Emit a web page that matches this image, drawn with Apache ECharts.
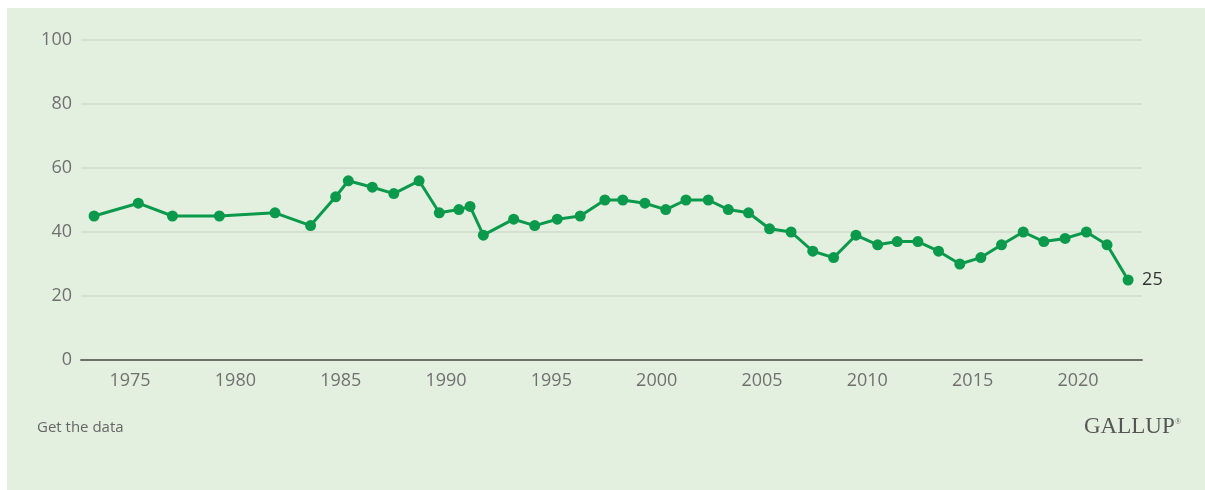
<!DOCTYPE html>
<html>
<head>
<meta charset="utf-8">
<script src="https://cdn.jsdelivr.net/npm/echarts@6/dist/echarts.min.js"></script>
<style>
  html, body { margin: 0; padding: 0; background: #ffffff; }
  .panel { position: absolute; left: 7px; top: 8px; width: 1198px; height: 482px; background: #e3f0df; }
  #chart { position: absolute; left: 0; top: 0; width: 1205px; height: 490px; }
</style>
</head>
<body>
<div class="panel"></div>
<div id="chart"></div>
<script>
// poll dates as decimal years
const pollYears = [
  1973.29, 1975.39, 1977.01, 1979.24, 1981.88, 1983.57, 1984.76, 1985.36, 1986.50, 1987.52,
  1988.72, 1989.68, 1990.61, 1991.14, 1991.77, 1993.21, 1994.21, 1995.28, 1996.37, 1997.54,
  1998.39, 1999.44, 2000.43, 2001.39, 2002.45, 2003.40, 2004.36, 2005.36, 2006.38, 2007.41,
  2008.40, 2009.46, 2010.49, 2011.42, 2012.40, 2013.38, 2014.39, 2015.39, 2016.37, 2017.40,
  2018.38, 2019.39, 2020.40, 2021.38, 2022.38
]
const confidence = [
  45, 49, 45, 45, 46, 42, 51, 56, 54, 52,
  56, 46, 47, 48, 39, 44, 42, 44, 45, 50,
  50, 49, 47, 50, 50, 47, 46, 41, 40, 34,
  32, 39, 36, 37, 37, 34, 30, 32, 36, 40,
  37, 38, 40, 36, 25
]
const xTickYears = [1975, 1980, 1985, 1990, 1995, 2000, 2005, 2010, 2015, 2020]
const yTicks = [0, 20, 40, 60, 80, 100]

const chart = echarts.init(document.getElementById('chart'))

const points = pollYears.map((yr, i) => [yr, confidence[i]])

chart.setOption({
  backgroundColor: 'transparent',
  animation: false,
  grid: { left: 81, right: 63, top: 40, bottom: 130 },
  xAxis: {
    type: 'value',
    min: 1972.67,
    max: 2023.04,
    axisLine: { show: true, lineStyle: { color: '#6b7069', width: 2 } },
    axisTick: { show: false },
    splitLine: { show: false },
    axisLabel: {
      customValues: xTickYears,
      formatter: (v) => String(v),
      color: '#707070',
      fontFamily: 'Open Sans',
      fontSize: 18,
      margin: 12,
    },
  },
  yAxis: {
    type: 'value',
    min: yTicks[0],
    max: yTicks[yTicks.length - 1],
    interval: 20,
    axisLine: { show: false },
    axisTick: { show: false },
    axisLabel: { color: '#707070', fontFamily: 'Open Sans', fontSize: 18, margin: 9 },
    splitLine: { lineStyle: { color: '#d0dbcd', width: 1.5 } },
  },
  series: [
    {
      type: 'line',
      data: points,
      symbol: 'circle',
      symbolSize: 11,
      lineStyle: { color: '#0b9a4c', width: 3 },
      itemStyle: { color: '#0b9a4c' },
      endLabel: {
        show: true,
        distance: 14,
        color: '#333333',
        fontFamily: 'Open Sans',
        fontSize: 18,
        formatter: (p) => String(p.value[1]),
      },
    },
  ],
  graphic: [
    {
      type: 'text',
      left: 37,
      top: 420,
      style: { text: 'Get the data', fill: '#666666', font: '15px "Open Sans"' },
    },
    {
      type: 'text',
      left: 1084,
      top: 415,
      style: { text: 'GALLUP', fill: '#555555', font: '23px "Liberation Serif"' },
    },
    {
      type: 'text',
      left: 1175,
      top: 418,
      style: { text: '®', fill: '#666666', font: '8px "Liberation Serif"' },
    },
  ],
})
</script>
</body>
</html>
